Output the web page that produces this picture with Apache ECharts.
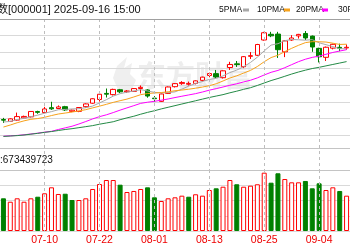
<!DOCTYPE html>
<html><head><meta charset="utf-8">
<script src="https://cdn.jsdelivr.net/npm/echarts@6/dist/echarts.min.js"></script>
<style>html,body{margin:0;padding:0;background:#fff}#c{width:350px;height:250px}</style>
</head><body><div id="c"></div>
<script>
const dates = ['07-02','07-03','07-04','07-07','07-08','07-09','07-10','07-11','07-14','07-15','07-16','07-17','07-18','07-21','07-22','07-23','07-24','07-25','07-28','07-29','07-30','07-31','08-01','08-04','08-05','08-06','08-07','08-08','08-11','08-12','08-13','08-14','08-15','08-18','08-19','08-20','08-21','08-22','08-25','08-26','08-27','08-28','08-29','09-01','09-02','09-03','09-04','09-05','09-08','09-09','09-10'];
const opens  = [3458,3449,3455,3466,3471,3497,3492,3516,3512,3521,3498,3498,3521,3538,3556,3586,3580,3604,3594,3596,3610,3603,3563,3547,3586,3619,3634,3631,3635,3650,3674,3683,3663,3713,3731,3717,3768,3773,3848,3876,3877,3790,3848,3868,3880,3867,3807,3763,3808,3812,3809];
const closes = [3454.8,3461.2,3472.3,3473.1,3497.5,3493.1,3509.7,3510.2,3519.7,3505.0,3503.8,3516.8,3534.5,3559.8,3581.9,3582.3,3605.7,3593.7,3597.9,3609.7,3615.7,3573.2,3560.0,3583.3,3617.6,3634.0,3639.7,3635.1,3647.6,3665.9,3683.5,3666.4,3696.8,3728.0,3727.3,3766.2,3771.1,3825.8,3883.6,3868.4,3800.4,3843.6,3857.9,3875.5,3858.1,3813.6,3765.9,3812.5,3826.8,3807.3,3812.2];
const lows   = [3441,3446,3452,3462,3468,3486,3489,3505,3509,3500,3494,3494,3516,3535,3546,3566,3576,3588,3588,3594,3586,3565,3545,3544,3583,3615,3628,3624,3630,3645,3665,3661,3659,3701,3716,3710,3755,3770,3845,3862,3760,3764,3844,3855,3848,3790,3738,3745,3802,3793,3800];
const highs  = [3466,3464,3492,3477,3499,3501,3520,3545,3527,3525,3507,3519,3537,3562,3584,3610,3609,3608,3602,3612,3625,3607,3573,3586,3620,3637,3646,3644,3650,3668,3688,3701,3699,3741,3745,3769,3789,3829,3888,3888,3888,3847,3872,3878,3892,3870,3810,3816,3830,3830,3826];
const closeBefore = 3457.75;
const volumes = [5.36,4.80,5.36,4.80,5.36,5.62,6.18,7.16,6.07,6.11,5.08,5.08,5.36,6.89,7.70,8.36,8.36,7.59,6.39,6.56,6.89,7.16,5.52,4.92,5.36,5.52,5.79,5.62,6.02,5.79,6.72,7.00,7.26,8.36,7.66,7.26,7.43,7.66,9.56,7.92,9.46,8.52,7.98,7.98,8.20,7.00,7.82,6.72,7.16,6.56,5.79];
const ma5  = [3445.9,3448.5,3458.1,3463.8,3471.8,3479.4,3489.1,3496.7,3506.0,3507.5,3509.7,3511.1,3516.0,3524.0,3539.4,3555.1,3572.8,3584.7,3592.3,3597.9,3604.5,3598.0,3591.3,3588.4,3590.0,3593.6,3606.9,3621.9,3634.8,3644.5,3654.4,3659.7,3672.0,3688.1,3700.4,3716.9,3737.9,3763.7,3794.8,3823.0,3829.9,3844.4,3850.8,3849.2,3847.1,3849.7,3834.2,3825.1,3815.4,3805.2,3804.9];
const ma10 = [3421.0,3430.9,3442.1,3451.3,3459.0,3462.7,3468.8,3477.4,3484.9,3489.7,3494.6,3500.1,3506.3,3515.0,3523.5,3532.4,3542.0,3550.3,3558.1,3568.6,3579.8,3585.4,3588.0,3590.3,3593.9,3599.1,3602.5,3606.6,3611.6,3617.2,3624.0,3633.3,3647.0,3661.5,3672.4,3685.7,3698.8,3717.9,3741.5,3761.7,3773.4,3791.1,3807.2,3822.0,3835.1,3839.8,3839.3,3838.0,3832.3,3826.2,3827.3];
const ma20 = [3376,3378,3380,3383,3387,3391,3396,3400,3409,3417,3425,3436,3448,3461,3472,3481,3492,3504,3515,3526,3537.2,3542.8,3547.2,3552.7,3558.7,3565.7,3572.2,3578.5,3584.9,3592.9,3601.9,3609.4,3617.5,3625.9,3633.2,3642.4,3650.6,3662.2,3676.5,3689.5,3698.7,3712.2,3727.1,3741.7,3753.7,3762.7,3769.0,3777.9,3786.9,3793.9,3800.4];
const ma30 = [3375,3377,3379,3382,3386,3390,3395,3399,3404,3409,3413,3418,3423,3428,3435,3441,3447,3457,3466,3474,3484,3493,3501,3510,3518,3526,3534,3542,3550,3558,3566,3573,3580,3589,3597,3606,3614,3625,3637,3649,3659,3670,3681,3691,3700,3708,3714,3721,3728,3735,3742];
const tickDates = ['07-10','07-22','08-01','08-13','08-25','09-04'];
const titleText = '数[000001] 2025-09-16 15:00';
const volumeText = ':673439723';
const legendNames = ['5PMA','10PMA','20PMA','30PMA'];
const maColors = ['#a8a8a8','#f7a21b','#ff00ff','#238a45'];
const watermark = '东方财富';

const UP = '#ff0000', DOWN = '#008000';
const chart = echarts.init(document.getElementById('c'), null, {renderer: 'canvas'});
const candleData = dates.map((d, i) => [opens[i], closes[i], lows[i], highs[i]]);
const volData = volumes.map((v, i) => {
  const prev = i ? closes[i - 1] : closeBefore;
  const up = closes[i] >= prev;
  return {value: v, itemStyle: up ? {color: '#fff', borderColor: UP, borderWidth: 1} : {color: DOWN, borderColor: DOWN, borderWidth: 1}};
});
const maArrays = [ma5, ma10, ma20, ma30];
const legX = [219, 257, 296, 338];
const markX = [243, 284, 322];
const dayLineStyle = {color: '#bdbdbd', type: [3, 3], width: 1};
const dayMarks = (yFrom, yTo) => ({
  silent: true, symbol: 'none', label: {show: false}, animation: false,
  lineStyle: dayLineStyle,
  data: tickDates.map(d => [{xAxis: d, y: yFrom}, {xAxis: d, y: yTo}])
});

const graphics = [
  {type: 'text', left: 137, top: 61, z: -5, silent: true,
   style: {text: watermark, font: 'bold 29px "Noto Sans CJK SC"', fill: '#ededed'}},
  {type: 'polygon', z: -5, silent: true,
   shape: {points: [[119,92],[113,78],[117,66],[127,57],[124,68],[132,63],[130,74],[136,80],[131,92]]},
   style: {fill: '#efefef'}},
  {type: 'text', left: -3, top: 4, style: {text: titleText, font: '11px "Liberation Sans", "Noto Sans CJK SC"', fill: '#111'}},
  {type: 'line', shape: {x1: 0, y1: 19.5, x2: 350, y2: 19.5}, style: {stroke: '#a0a0a0', lineWidth: 1}, z: 10},
  {type: 'line', shape: {x1: 0, y1: 148.5, x2: 350, y2: 148.5}, style: {stroke: '#c4c4c4', lineWidth: 1}, z: 10},
  {type: 'line', shape: {x1: 0, y1: 170.5, x2: 350, y2: 170.5}, style: {stroke: '#c4c4c4', lineWidth: 1}, z: 10},
  {type: 'text', left: 0, top: 155, style: {text: volumeText, font: '10px "Liberation Sans"', fill: '#111'}}
];
legendNames.forEach((n, i) => {
  graphics.push({type: 'text', left: legX[i], top: 5, style: {text: n, font: '8.5px "Liberation Sans"', fill: '#111'}});
  if (i < 3) graphics.push({type: 'rect', shape: {x: markX[i], y: 8.5, width: 6, height: 3}, style: {fill: maColors[i]}});
});

const option = {
  animation: false,
  backgroundColor: '#fff',
  grid: [
    {left: -2, right: -5, top: 19, height: 116},
    {left: -2, right: -5, top: 170, height: 61}
  ],
  xAxis: [
    {type: 'category', gridIndex: 0, data: dates, boundaryGap: true,
     axisLine: {show: false}, axisTick: {show: false}, axisLabel: {show: false}, splitLine: {show: false}},
    {type: 'category', gridIndex: 1, data: dates, boundaryGap: true,
     axisLine: {show: false}, axisTick: {show: false}, splitLine: {show: false},
     axisLabel: {show: true, interval: (i, v) => tickDates.includes(v), color: '#ee0000',
                 fontSize: 10.5, fontFamily: 'Liberation Sans', margin: 4}}
  ],
  yAxis: [
    {type: 'value', gridIndex: 0, min: 3382, max: 3951, show: false, splitLine: {show: false}},
    {type: 'value', gridIndex: 0, min: 0, max: 7, interval: 1,
     axisLine: {show: false}, axisTick: {show: false}, axisLabel: {show: false},
     splitLine: {show: true, lineStyle: {color: '#d9d9d9', width: 1}}},
    {type: 'value', gridIndex: 1, min: 0, max: 10, interval: 2.5,
     axisLine: {show: false}, axisTick: {show: false}, axisLabel: {show: false},
     splitLine: {show: true, lineStyle: {color: '#d9d9d9', width: 1}}}
  ],
  graphic: graphics,
  series: [
    {type: 'candlestick', xAxisIndex: 0, yAxisIndex: 0, data: candleData, barWidth: 5, clip: false,
     itemStyle: {color: '#fff', color0: DOWN, borderColor: UP, borderColor0: DOWN, borderWidth: 1},
     markLine: dayMarks(19, 170)},
    ...maArrays.map((arr, i) => ({
      type: 'line', xAxisIndex: 0, yAxisIndex: 0, data: arr, symbol: 'none', showSymbol: false,
      clip: false, lineStyle: {color: maColors[i], width: 1}, silent: true
    })),
    {type: 'bar', xAxisIndex: 1, yAxisIndex: 2, data: volData, barWidth: 5, silent: true,
     markLine: dayMarks(170, 231)}
  ]
};
chart.setOption(option);
</script>
</body></html>
